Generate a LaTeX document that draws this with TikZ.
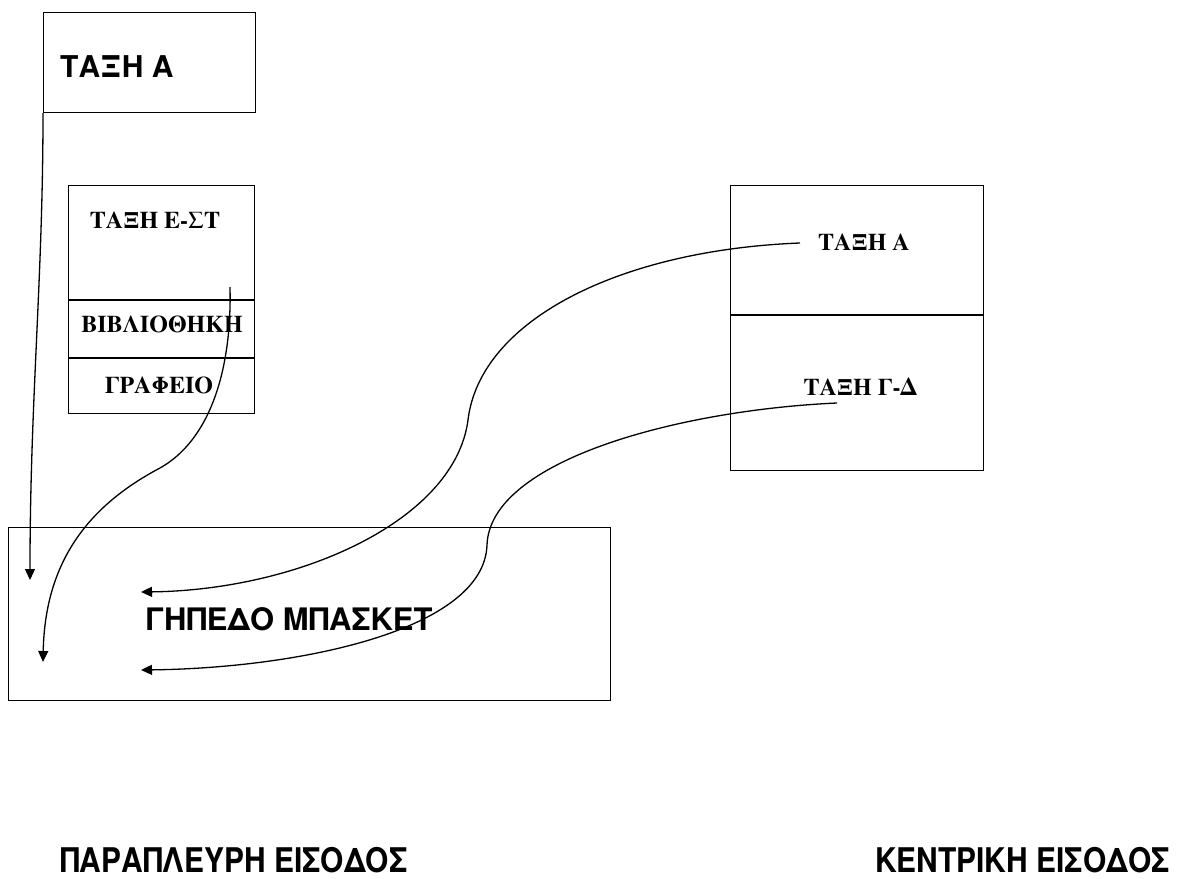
\documentclass[tikz,border=0pt]{standalone}
\usepackage{fontspec}
\usetikzlibrary{arrows.meta}
\newfontfamily\hersbold{texgyreheros-bold}[Extension=.otf]
\newfontfamily\hersnarrow{texgyreheros-bold}[Extension=.otf, FakeStretch=0.88]
\newfontfamily\termbold{texgyretermes-bold}[Extension=.otf]
\begin{document}
\begin{tikzpicture}[x=1pt,y=-1pt,
  box/.style={draw=black, line width=1.2pt, rectangle, inner sep=0pt, anchor=north west},
  serif/.style={inner sep=0pt, anchor=base, font=\termbold\fontsize{24}{26}\selectfont},
  bigsans/.style={inner sep=0pt, anchor=base west, font=\hersbold\fontsize{31}{36}\selectfont},
  entrance/.style={inner sep=0pt, anchor=base west, font=\hersnarrow\fontsize{34}{38}\selectfont},
  divider/.style={line width=1.2pt},
  route/.style={line width=1.3pt, -{Triangle[length=11pt,width=10pt]}}]
\useasboundingbox (0,0) rectangle (1183,878);
\fill[white] (0,0) rectangle (1183,878);
% boxes
\node[box, minimum width=212pt, minimum height=100pt] (topA) at (43,12) {};
\node[box, minimum width=186pt, minimum height=228pt] (mid) at (68,185) {};
\node[box, minimum width=253pt, minimum height=285pt] (right) at (730,185) {};
\node[box, minimum width=602pt, minimum height=173pt] (court) at (8,527) {};
% dividers
\draw[divider] (mid.west |- 0,300) -- (mid.east |- 0,300);
\draw[divider] (mid.west |- 0,358) -- (mid.east |- 0,358);
\draw[divider] (right.west |- 0,315) -- (right.east |- 0,315);
% texts
\node[inner sep=0pt, anchor=base west, font=\hersbold\fontsize{30}{34}\selectfont] (tA) at (60,77) {ΤΑΞΗ Α};
\node[serif] (tEST) at (155,228) {ΤΑΞΗ Ε-ΣΤ};
\node[serif] (tBib) at (162,332) {ΒΙΒΛΙΟΘΗΚΗ};
\node[serif] (tGraf) at (159,393) {ΓΡΑΦΕΙΟ};
\node[serif] (rA) at (864,250) {ΤΑΞΗ Α};
\node[serif] (rGD) at (860,395) {ΤΑΞΗ Γ-Δ};
\node[bigsans] (tCourt) at (145,630) {ΓΗΠΕΔΟ ΜΠΑΣΚΕΤ};
\node[entrance] (side) at (60,872) {ΠΑΡΑΠΛΕΥΡΗ ΕΙΣΟΔΟΣ};
\node[entrance] (main) at (875,872) {ΚΕΝΤΡΙΚΗ ΕΙΣΟΔΟΣ};
% route end points
\coordinate (s2) at (230,287);
\coordinate (s3) at (800,243);
\coordinate (s4) at (837,403);
\coordinate (e1) at (30,580);
\coordinate (e2) at (43,662);
\coordinate (e3) at (141,592);
\coordinate (e4) at (141,670);
% routes
\draw[route] (topA.south west) .. controls (43,280) and (30,400) .. (e1);
\draw[route] (s2) .. controls (232,370) and (210,440) .. (160,468) .. controls (90,505) and (45,560) .. (e2);
\draw[route] (s3) .. controls (620,250) and (480,320) .. (468,420) .. controls (455,520) and (300,590) .. (e3);
\draw[route] (s4) .. controls (680,410) and (490,460) .. (487,545) .. controls (484,630) and (300,668) .. (e4);
\end{tikzpicture}
\end{document}
